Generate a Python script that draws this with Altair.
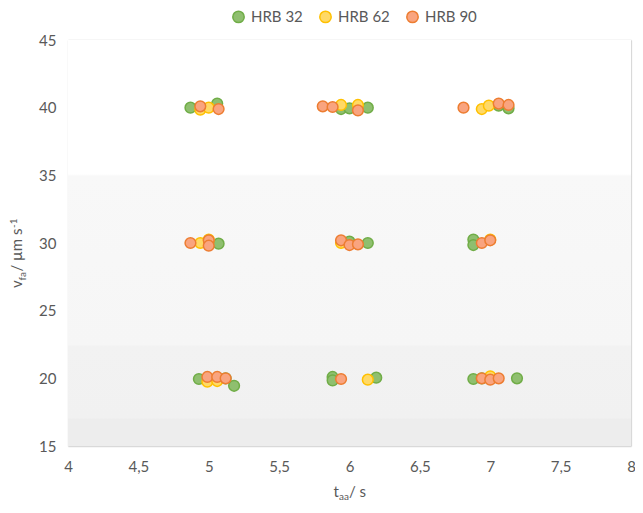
import altair as alt
import pandas as pd

series_names = ["HRB 32", "HRB 62", "HRB 90"]
fill_colors = ["#8fbf6f", "#ffd966", "#f9a47f"]
stroke_colors = ["#70ad47", "#ffc000", "#ed7d31"]

hrb32_x = [4.87, 5.06, 5.94, 6.00, 6.13, 7.06, 7.13,
           5.07, 6.00, 6.13, 6.88, 6.88,
           4.93, 5.12, 5.18, 5.88, 5.88, 6.19, 6.88, 6.94, 7.19]
hrb32_y = [40.0, 40.3, 39.9, 39.95, 40.0, 40.15, 39.95,
           29.95, 30.1, 30.0, 30.25, 29.85,
           19.95, 20.0, 19.45, 20.1, 19.85, 20.05, 19.95, 20.0, 20.0]

hrb62_x = [4.94, 5.00, 5.94, 6.06, 6.94, 6.99,
           4.94, 5.00, 5.94, 7.00,
           4.99, 5.06, 6.13, 7.00]
hrb62_y = [39.85, 40.0, 40.2, 40.2, 39.9, 40.15,
           30.0, 30.25, 30.0, 30.25,
           19.75, 19.8, 19.9, 20.15]

hrb90_x = [4.94, 5.07, 5.81, 5.88, 6.06, 6.81, 7.06, 7.13,
           4.87, 5.00, 5.00, 5.94, 6.00, 6.06, 6.94, 7.00,
           4.99, 5.06, 5.12, 5.94, 6.94, 7.00, 7.06]
hrb90_y = [40.1, 39.9, 40.1, 40.05, 39.8, 40.0, 40.3, 40.2,
           30.0, 30.2, 29.8, 30.2, 29.85, 29.9, 30.0, 30.2,
           20.1, 20.1, 20.0, 19.95, 20.0, 19.9, 20.0]

rows = []
for name, xs, ys in zip(series_names, [hrb32_x, hrb62_x, hrb90_x], [hrb32_y, hrb62_y, hrb90_y]):
    for a, b in zip(xs, ys):
        rows.append({"series": name, "t": a, "v": b})
df = pd.DataFrame(rows)

W, H = 563, 406
FONT = "Lato"
GREY = "#595959"

bg = alt.Chart(pd.DataFrame({"a": [0]})).mark_rect(
    color=alt.LinearGradient(
        gradient="linear", x1=0, x2=0, y1=0, y2=1,
        stops=[
            alt.GradientStop(color="#ffffff", offset=0.0),
            alt.GradientStop(color="#ffffff", offset=0.33),
            alt.GradientStop(color="#f8f8f8", offset=0.335),
            alt.GradientStop(color="#f6f6f6", offset=0.75),
            alt.GradientStop(color="#f2f2f2", offset=0.755),
            alt.GradientStop(color="#f1f1f1", offset=0.93),
            alt.GradientStop(color="#ededed", offset=0.935),
            alt.GradientStop(color="#ededed", offset=1.0),
        ],
    )
).encode(x=alt.value(0), x2=alt.value(W), y=alt.value(0), y2=alt.value(H))

legend = alt.Legend(
    title=None, orient="none", direction="horizontal",
    legendX=163, legendY=-31,
    labelFont=FONT, labelFontSize=15, labelColor=GREY,
    symbolSize=130, symbolStrokeWidth=1.5, symbolType="circle",
    columnPadding=13, labelOffset=5,
)

points = alt.Chart(df).mark_circle(size=115, strokeWidth=1.5, opacity=1).encode(
    x=alt.X("t:Q", scale=alt.Scale(domain=[4, 8], nice=False),
            axis=alt.Axis(values=[4, 4.5, 5, 5.5, 6, 6.5, 7, 7.5, 8],
                          labelExpr="replace(toString(datum.value), '.', ',')",
                          labelFlush=False, labelOverlap=False,
                          title=None)),
    y=alt.Y("v:Q", scale=alt.Scale(domain=[15, 45], nice=False),
            axis=alt.Axis(values=[15, 20, 25, 30, 35, 40, 45], title=None)),
    fill=alt.Fill("series:N", scale=alt.Scale(domain=series_names, range=fill_colors), legend=legend),
    stroke=alt.Stroke("series:N", scale=alt.Scale(domain=series_names, range=stroke_colors), legend=legend),
)

def txt(s, x, y, size=15, angle=0, align="left", baseline="alphabetic"):
    return alt.Chart(pd.DataFrame({"a": [0]})).mark_text(
        text=s, font=FONT, fontSize=size, color=GREY, angle=angle,
        align=align, baseline=baseline,
    ).encode(x=alt.value(x), y=alt.value(y))

# x-axis title: t_aa / s
x0 = W / 2 - 16
xt = [
    txt("t", x0, 457),
    txt("aa", x0 + 5.5, 460, size=10),
    txt(" / s", x0 + 15.5, 457),
]
# y-axis title: v_fa / µm s^-1
yb = -46
yt = [
    txt("v", yb, 248, angle=270),
    txt("fa", yb + 3.5, 240.5, size=10, angle=270),
    txt(" / µm s", yb, 231.5, angle=270),
    txt("-1", yb - 5, 188, size=10, angle=270),
]

chart = alt.layer(bg, points, *xt, *yt).properties(
    width=W, height=H,
    autosize=alt.AutoSizeParams(type="none"),
    padding={"left": 60, "top": 32, "right": 4, "bottom": 55},
).configure_axis(
    grid=True, gridColor="#d9d9d9", gridWidth=1.3,
    domain=False, ticks=False,
    labelFont=FONT, labelFontSize=15, labelColor=GREY,
).configure_axisX(labelPadding=13).configure_axisY(labelPadding=12).configure_view(
    stroke=None
)

chart.save("out.html", embed_options={"renderer": "svg", "actions": False})
